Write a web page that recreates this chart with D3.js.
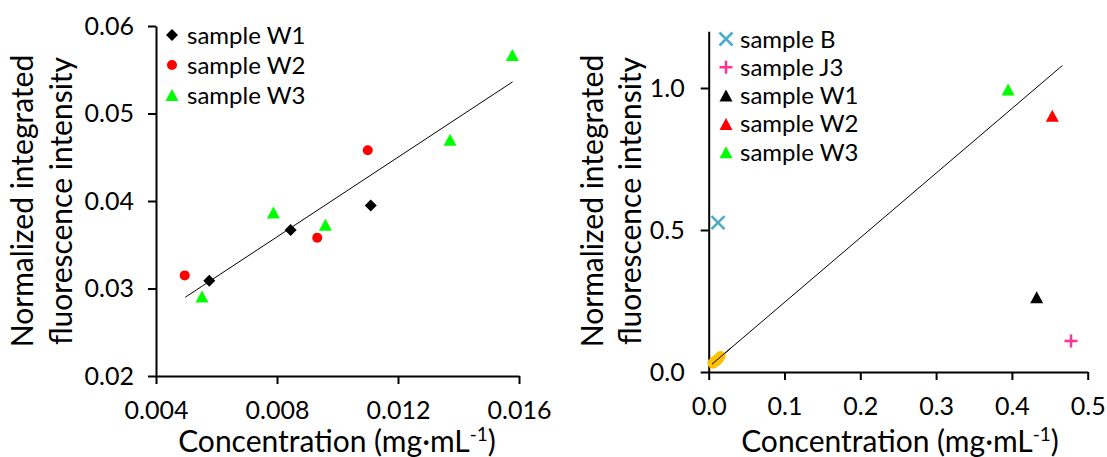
<!DOCTYPE html>
<html>
<head>
<meta charset="utf-8">
<script src="https://cdn.jsdelivr.net/npm/d3@7"></script>
<style>
body { margin: 0; background: #fff; }
text { font-family: Lato, "Open Sans", sans-serif; fill: #000; }
</style>
</head>
<body>
<div id="container"></div>
<script>
// left panel: three samples
const w1X = [0.00576, 0.00845, 0.0111];
const w1Y = [0.0309, 0.0367, 0.0395];
const w2X = [0.00495, 0.00933, 0.0110];
const w2Y = [0.0315, 0.0358, 0.0458];
const w3X = [0.00552, 0.00788, 0.0096, 0.01372, 0.01578];
const w3Y = [0.0291, 0.0387, 0.0373, 0.0470, 0.0567];

// right panel: one point per sample
const mixNames = ["sample B", "sample J3", "sample W1", "sample W2", "sample W3"];
const mixX = [0.0123, 0.478, 0.4327, 0.4533, 0.395];
const mixY = [0.526, 0.109, 0.263, 0.9025, 0.995];

// linear fit
const fitSlope = 2.275;
const fitIntercept = 0.0177;
const leftFitRange = [0.00497, 0.01579];
const rightFitRange = [0.0044, 0.4665];

const leftXTicks = [0.004, 0.008, 0.012, 0.016];
const leftYTicks = [0.02, 0.03, 0.04, 0.05, 0.06];
const rightXTicks = [0, 0.1, 0.2, 0.3, 0.4, 0.5];
const rightYTicks = [0, 0.5, 1.0];

const width = 1107;
const height = 457;

const svg = d3.select("#container").append("svg")
    .attr("width", width)
    .attr("height", height);

function markerPath(shape) {
    if (shape == "diamond") return "M0,-6L6,0L0,6L-6,0Z";
    if (shape == "circle") return "M5,0A5,5 0 1,1 -5,0A5,5 0 1,1 5,0Z";
    if (shape == "triangle") return "M0,-6L6.5,6L-6.5,6Z";
    if (shape == "cross") return "M-6.5,-6.5L6.5,6.5M-6.5,6.5L6.5,-6.5";
    if (shape == "plus") return "M-6.5,0L6.5,0M0,-6.5L0,6.5";
}

function addMarker(sel, shape, color) {
    let p = sel.append("path").attr("d", markerPath(shape));
    if (shape == "cross" || shape == "plus") {
        p.attr("fill", "none").attr("stroke", color).attr("stroke-width", 2.5);
    } else {
        p.attr("fill", color);
    }
    return p;
}

function drawAxes(x, y, xTicks, yTicks, xFmt, yFmt, yPad) {
    let xa = svg.append("g")
        .attr("transform", "translate(0," + y.range()[0] + ")")
        .call(d3.axisBottom(x).tickValues(xTicks).tickFormat(d3.format(xFmt))
            .tickSize(8).tickPadding(17).tickSizeOuter(0));
    let ya = svg.append("g")
        .attr("transform", "translate(" + x.range()[0] + ",0)")
        .call(d3.axisLeft(y).tickValues(yTicks).tickFormat(d3.format(yFmt))
            .tickSize(8).tickPadding(yPad).tickSizeOuter(0));
    [xa, ya].forEach(a => {
        a.selectAll("path, line").attr("stroke", "#000").attr("stroke-width", 2);
        a.selectAll("text").style("font-size", "25px").attr("fill", "#000");
    });
}

function drawTitles(cx, baseY, yx1, yx2, cy) {
    let t = svg.append("text")
        .attr("x", cx)
        .attr("y", baseY)
        .attr("text-anchor", "middle")
        .style("font-size", "30px")
        .text("Concentration (mg·mL");
    t.append("tspan").attr("dy", -11).style("font-size", "19px").text("-1");
    t.append("tspan").attr("dy", 11).text(")");

    svg.append("text")
        .attr("transform", "translate(" + yx1 + "," + cy + ") rotate(-90)")
        .attr("text-anchor", "middle")
        .style("font-size", "30px")
        .text("Normalized integrated");
    svg.append("text")
        .attr("transform", "translate(" + yx2 + "," + cy + ") rotate(-90)")
        .attr("text-anchor", "middle")
        .style("font-size", "30px")
        .text("fluorescence intensity");
}

function drawFit(x, y, range) {
    let pts = range.map(v => [v, fitIntercept + fitSlope * v]);
    svg.append("path")
        .attr("d", d3.line().x(d => x(d[0])).y(d => y(d[1]))(pts))
        .attr("fill", "none")
        .attr("stroke", "#000")
        .attr("stroke-width", 1);
}

// ---------- left chart ----------
let xL = d3.scaleLinear().domain([0.004, 0.016]).range([156, 519]);
let yL = d3.scaleLinear().domain([0.02, 0.06]).range([376, 26]);

drawAxes(xL, yL, leftXTicks, leftYTicks, ".3f", ".2f", 14);
drawTitles(337, 452, 33, 72, 201);
drawFit(xL, yL, leftFitRange);

let leftSeries = [
    { name: "sample W1", xs: w1X, ys: w1Y, shape: "diamond", color: "#000000" },
    { name: "sample W2", xs: w2X, ys: w2Y, shape: "circle", color: "#ff0000" },
    { name: "sample W3", xs: w3X, ys: w3Y, shape: "triangle", color: "#00ff00" }
];

leftSeries.forEach((s, i) => {
    svg.append("g")
        .selectAll("g")
        .data(d3.zip(s.xs, s.ys))
        .join("g")
        .attr("transform", d => "translate(" + xL(d[0]) + "," + yL(d[1]) + ")")
        .each(function() { addMarker(d3.select(this), s.shape, s.color); });

    let lg = svg.append("g").attr("transform", "translate(172," + (35 + i * 30) + ")");
    addMarker(lg, s.shape, s.color);
    lg.append("text").attr("x", 15).attr("y", 8.5).style("font-size", "24px").text(s.name);
});

// ---------- right chart ----------
let xR = d3.scaleLinear().domain([0, 0.5]).range([708.7, 1087.7]);
let yR = d3.scaleLinear().domain([0, 1.2]).range([372, 31.2]);

drawAxes(xR, yR, rightXTicks, rightYTicks, ".1f", ".1f", 16);
drawTitles(900, 452, 603, 641, 201);
drawFit(xR, yR, rightFitRange);

let mixShapes = ["cross", "plus", "triangle", "triangle", "triangle"];
let mixColors = ["#4bacc6", "#ff3399", "#000000", "#ff0000", "#00ff00"];

svg.append("g")
    .selectAll("g")
    .data(mixNames)
    .join("g")
    .attr("transform", (d, i) => "translate(" + xR(mixX[i]) + "," + yR(mixY[i]) + ")")
    .each(function(d, i) { addMarker(d3.select(this), mixShapes[i], mixColors[i]); });

// the W1-W3 points of the left chart again, all in orange
let allX = w1X.concat(w2X, w3X);
let allY = w1Y.concat(w2Y, w3Y);
svg.append("g")
    .selectAll("circle")
    .data(d3.zip(allX, allY))
    .join("circle")
    .attr("cx", d => xR(d[0]))
    .attr("cy", d => yR(d[1]))
    .attr("r", 5)
    .attr("fill", "#ffc000");
drawFit(xR, yR, [rightFitRange[0], 0.03]);

mixNames.forEach((name, i) => {
    let lg = svg.append("g").attr("transform", "translate(726," + (39 + i * 28.3) + ")");
    addMarker(lg, mixShapes[i], mixColors[i]);
    lg.append("text").attr("x", 14).attr("y", 8.5).style("font-size", "24px").text(name);
});
</script>
</body>
</html>
